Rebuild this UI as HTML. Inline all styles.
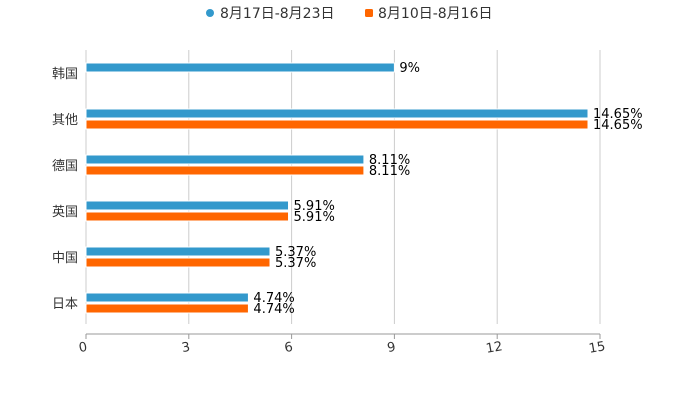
<!DOCTYPE html>
<html><head><meta charset="utf-8"><style>
body{margin:0;background:#fff;font-family:"DejaVu Sans","Noto Sans CJK SC",sans-serif}
</style></head><body>
<svg width="700" height="400" xmlns="http://www.w3.org/2000/svg" font-family="DejaVu Sans, Noto Sans CJK SC, sans-serif">
<g font-size="14" fill="#333">
<circle cx="210" cy="13" r="4" fill="#3399cc"/>
<text x="220" y="18">8月17日-8月23日</text>
<rect x="365" y="9" width="8" height="8" rx="1.5" fill="#ff6600"/>
<text x="378" y="18">8月10日-8月16日</text>
</g>
<g id="grid"></g><g id="bars"></g><g id="labels"></g><g id="axis"></g>
</svg>
<script>
const categories=["韩国","其他","德国","英国","中国","日本"];
const seriesA=[9,14.65,8.11,5.91,5.37,4.74];
const seriesB=[null,14.65,8.11,5.91,5.37,4.74];
const ticks=[0,3,6,9,12,15];
const NS="http://www.w3.org/2000/svg";
const x0=86,x1=600,plotTop=50,band=46;
const xs=v=>x0+(x1-x0)*v/15;
const yc=i=>plotTop+band*i+band/2;
function mk(t,a,p){const e=document.createElementNS(NS,t);for(const k in a)e.setAttribute(k,a[k]);document.getElementById(p).appendChild(e);return e;}
ticks.forEach(t=>{
 const g=mk('line',{x1:xs(t),x2:xs(t),y1:plotTop,y2:324,stroke:'#ccc','stroke-width':1},'grid');
 
 
 const tk=mk('line',{x1:xs(t),x2:xs(t),y1:334,y2:339,stroke:'#999'},'axis');
 
 
 const l=mk('text',{x:xs(t)-3,y:351,'font-size':13,fill:'#333','text-anchor':'middle',transform:`rotate(-10 ${xs(t)} 347)`},'axis');
 l.textContent=t;
 
 
});
const ax=mk('line',{x1:x0,x2:x1,y1:334,y2:334,stroke:'#999'},'axis');


categories.forEach((c,i)=>{
 const y=yc(i);
 const cl=mk('text',{x:78,y:y+5,'font-size':13,fill:'#333','text-anchor':'end'},'labels');
 cl.textContent=c;
 
 
 [[seriesA,'#3399cc',-10,'a'],[seriesB,'#ff6600',1,'b']].forEach(([s,col,off,k])=>{
  const v=s[i]; if(v==null)return;
  const r=mk('rect',{x:x0,y:y+off,width:xs(v)-x0,height:9,fill:col,stroke:'#fff','stroke-width':1},'bars');
  
  
  const t=mk('text',{x:xs(v)+5,y:y+off+9,'font-size':13,fill:'#000'},'labels');
  t.textContent=v+'%';
  
  
 });
});
</script>
</body></html>
